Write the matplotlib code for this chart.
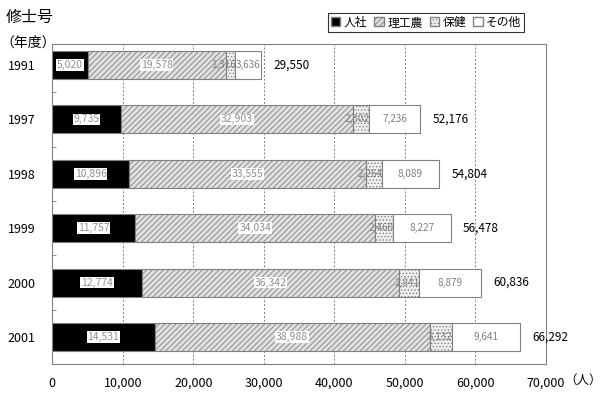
import numpy as np
import matplotlib.pyplot as plt
from matplotlib.patches import Patch
from matplotlib.ticker import FuncFormatter

plt.rcParams['font.family'] = ['Noto Sans CJK JP', 'DejaVu Sans']
plt.rcParams['hatch.linewidth'] = 0.6

years = ['1991', '1997', '1998', '1999', '2000', '2001']
jinsha = [5020, 9735, 10896, 11757, 12774, 14531]
rikou = [19578, 32903, 33555, 34034, 36342, 38988]
hoken = [1316, 2302, 2264, 2460, 2841, 3132]
sonota = [3636, 7236, 8089, 8227, 8879, 9641]
totals = [29550, 52176, 54804, 56478, 60836, 66292]
fields = ['人社', '理工農', '保健', 'その他']

series = [jinsha, rikou, hoken, sonota]
faces = ['black', '#e0e0e0', '#f0f0f0', 'white']
hatches = [None, '//////', '.....', None]

fig = plt.figure(figsize=(6, 3.95), dpi=100)
ax = fig.add_axes([0.087, 0.078, 0.823, 0.811])

y = np.arange(len(years))
left = np.zeros(len(years))
for i, vals in enumerate(series):
    vals = np.array(vals)
    ax.barh(y, vals, left=left, height=0.515, color=faces[i],
            edgecolor='#808080', linewidth=0.8, hatch=hatches[i], zorder=2)
    for yy, l, v in zip(y, left, vals):
        txt = f'{v:,}'
        if i < 2:
            ax.text(l + v / 2, yy, txt, ha='center', va='center', fontsize=7.5,
                    color='#909090', zorder=4,
                    bbox=dict(boxstyle='square,pad=0.08', fc='white', ec='none'))
        elif i == 2:
            # narrow segment: label ends at its right edge
            ax.annotate(txt, (l + v, yy), xytext=(0.5, 0), textcoords='offset points',
                        ha='right', va='center', fontsize=7.2, color='#808080', zorder=4)
        else:
            ax.text(l + v / 2, yy, txt, ha='center', va='center', fontsize=7.2,
                    color='#808080', zorder=4)
    left = left + vals

for yy, t in zip(y, totals):
    ax.annotate(f'{t:,}', (t, yy), xytext=(9, 0), textcoords='offset points',
                ha='left', va='center', fontsize=8.5, color='black')

ax.set_xlim(0, 70000)
ax.set_ylim(5.5, -0.39)
ax.set_xticks(np.arange(0, 70001, 10000))
ax.xaxis.set_major_formatter(FuncFormatter(lambda v, p: f'{int(v):,}'))
ax.set_yticks(y)
ax.set_yticklabels(years)
ax.set_yticks(np.arange(0.5, 5, 1), minor=True)
ax.tick_params(axis='x', length=0, pad=9, labelsize=9)
ax.tick_params(axis='y', which='major', length=0, pad=12, labelsize=9)
ax.tick_params(axis='y', which='minor', length=3, direction='in', color='#808080')
ax.grid(axis='x', linestyle=(0, (2, 2)), color='#808080', linewidth=0.7, zorder=0)
for s in ax.spines.values():
    s.set_color('#808080')

fig.text(0.94, 0.037, '（人）', fontsize=9, ha='left', va='center')
fig.text(0.01, 0.955, '修士号', fontsize=11.5, ha='left', va='center')
fig.text(0.0, 0.893, '（年度）', fontsize=10, ha='left', va='center')

handles = [Patch(facecolor=faces[i], edgecolor='#808080', hatch=hatches[i], label=fields[i])
           for i in range(4)]
leg = fig.legend(handles=handles, loc='center', bbox_to_anchor=(0.71, 0.944), ncol=4,
                 fontsize=8.5, frameon=True, fancybox=False, handlelength=0.8,
                 handleheight=0.8, handletextpad=0.3, columnspacing=0.6,
                 borderpad=0.25, borderaxespad=0)
leg.get_frame().set_edgecolor('black')
leg.get_frame().set_linewidth(0.8)

fig.savefig('out.png', dpi=100)
